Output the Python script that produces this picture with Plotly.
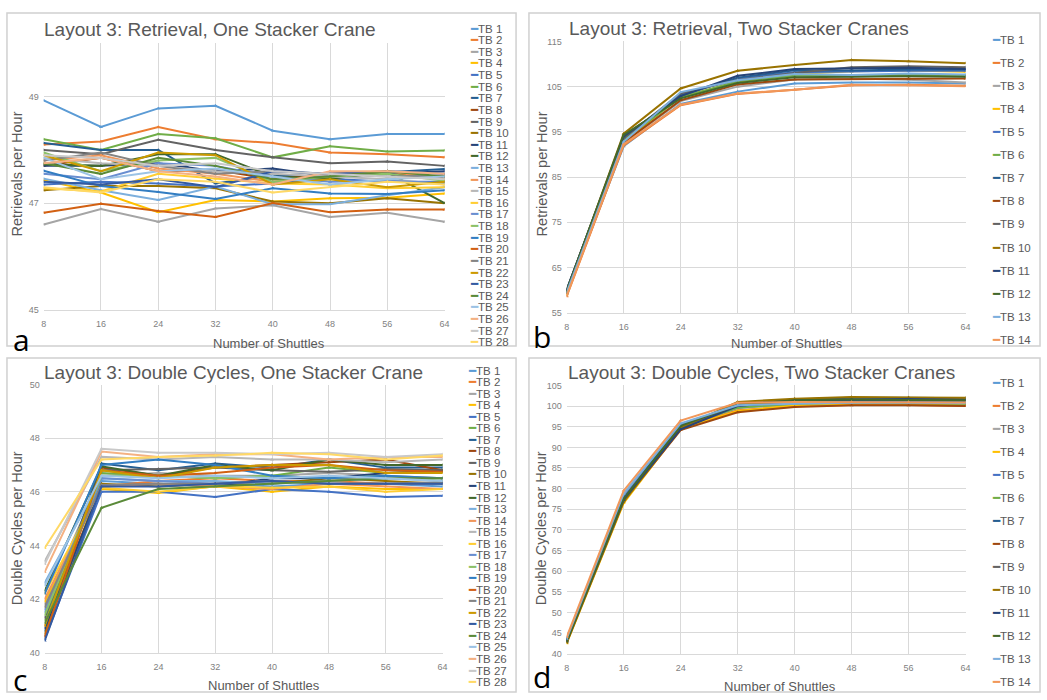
import plotly.graph_objects as go

W, H = 1047, 700

shuttles = [8, 16, 24, 32, 40, 48, 56, 64]
tb28 = [f"TB {i}" for i in range(1, 29)]
tb14 = [f"TB {i}" for i in range(1, 15)]

excel_colors = ["#5B9BD5", "#ED7D31", "#A5A5A5", "#FFC000", "#4472C4", "#70AD47",
                "#255E91", "#9E480E", "#636363", "#997300", "#264478", "#43682B",
                "#7CAFDD", "#F1975A", "#B7B7B7", "#FFCD33", "#698ED0", "#8CC168",
                "#327DC2", "#D26012", "#848484", "#CC9A00", "#335AA1", "#5A8A39",
                "#9CC3E5", "#F4B183", "#C9C9C9", "#FFD966"]

# Panel a: Retrieval, one stacker crane (retrievals per hour)
ret_one = [
    [48.93, 48.43, 48.78, 48.83, 48.36, 48.20, 48.30, 48.30],
    [48.10, 48.16, 48.43, 48.20, 48.13, 47.95, 47.92, 47.86],
    [46.60, 46.89, 46.65, 46.90, 46.96, 46.74, 46.82, 46.65],
    [47.43, 47.20, 46.83, 47.06, 47.03, 47.09, 47.10, 47.18],
    [47.35, 47.40, 47.37, 47.31, 47.37, 47.46, 47.40, 47.40],
    [48.20, 48.00, 48.30, 48.22, 47.86, 48.07, 47.97, 47.99],
    [48.13, 48.00, 48.00, 47.37, 47.52, 47.48, 47.58, 47.64],
    [47.70, 47.85, 47.60, 47.62, 47.45, 47.55, 47.55, 47.48],
    [48.00, 47.92, 48.19, 48.00, 47.86, 47.75, 47.78, 47.70],
    [47.24, 47.32, 47.32, 47.28, 47.03, 47.00, 47.09, 47.00],
    [47.70, 47.70, 47.75, 47.60, 47.65, 47.50, 47.55, 47.60],
    [47.73, 47.70, 47.92, 47.92, 47.50, 47.46, 47.58, 47.00],
    [47.46, 47.24, 47.06, 47.31, 46.98, 46.98, 47.15, 47.30],
    [47.80, 47.90, 47.65, 47.55, 47.40, 47.55, 47.60, 47.45],
    [47.85, 47.75, 47.70, 47.60, 47.55, 47.50, 47.45, 47.35],
    [47.28, 47.22, 47.55, 47.46, 47.37, 47.35, 47.28, 47.30],
    [47.55, 47.45, 47.75, 47.70, 47.50, 47.40, 47.42, 47.38],
    [47.95, 47.60, 47.80, 47.85, 47.40, 47.50, 47.55, 47.42],
    [47.61, 47.32, 47.21, 47.08, 47.28, 47.18, 47.17, 47.24],
    [46.82, 46.99, 46.85, 46.74, 47.00, 46.83, 46.88, 46.88],
    [47.80, 47.95, 47.70, 47.55, 47.60, 47.55, 47.50, 47.52],
    [47.90, 47.60, 47.95, 47.90, 47.35, 47.45, 47.30, 47.40],
    [47.40, 47.35, 47.45, 47.30, 47.60, 47.55, 47.60, 47.55],
    [47.75, 47.55, 47.85, 47.70, 47.45, 47.50, 47.60, 47.50],
    [47.85, 47.45, 47.60, 47.65, 47.50, 47.35, 47.45, 47.50],
    [47.75, 47.85, 47.60, 47.50, 47.35, 47.60, 47.60, 47.55],
    [47.90, 47.85, 47.70, 47.75, 47.60, 47.55, 47.50, 47.45],
    [47.30, 47.20, 47.45, 47.40, 47.20, 47.30, 47.40, 47.35],
]

# Panel b: Retrieval, two stacker cranes
ret_two = [
    [59.2, 91.8, 101.2, 103.9, 105.7, 105.9, 105.9, 105.7],
    [58.6, 92.0, 100.9, 103.4, 104.3, 105.3, 105.4, 105.2],
    [59.5, 92.5, 101.8, 105.0, 106.6, 106.8, 106.5, 105.9],
    [59.0, 92.8, 102.8, 106.0, 107.8, 108.4, 108.6, 108.3],
    [59.8, 93.5, 103.2, 106.8, 108.2, 108.4, 108.5, 108.5],
    [59.6, 93.2, 102.6, 106.2, 107.4, 107.6, 107.6, 107.5],
    [59.9, 93.8, 103.0, 107.0, 108.6, 108.6, 108.8, 108.8],
    [59.3, 92.6, 102.0, 105.5, 106.6, 106.7, 106.8, 106.8],
    [60.0, 93.6, 103.5, 106.5, 108.0, 109.3, 109.5, 109.3],
    [59.7, 94.6, 104.6, 108.5, 109.8, 110.9, 110.6, 110.2],
    [60.0, 94.0, 102.9, 107.4, 108.9, 109.0, 109.2, 108.9],
    [59.8, 94.3, 102.4, 105.8, 107.1, 107.2, 107.3, 107.2],
    [59.4, 92.8, 103.8, 106.4, 107.8, 107.6, 107.9, 107.7],
    [58.7, 92.2, 101.0, 103.5, 104.3, 105.4, 105.3, 105.1],
]

# Panel c: Double cycles, one stacker crane
dc_one = [
    [41.5, 46.4, 46.3, 46.3, 46.2, 46.3, 46.3, 46.2],
    [41.0, 46.2, 46.4, 46.5, 46.4, 46.4, 46.3, 46.3],
    [41.8, 46.6, 46.7, 46.6, 46.6, 46.7, 46.6, 46.5],
    [41.9, 46.1, 45.95, 46.2, 46.0, 46.2, 46.1, 46.1],
    [40.5, 46.0, 46.0, 45.8, 46.1, 46.0, 45.8, 45.85],
    [41.2, 46.7, 46.6, 46.5, 46.6, 46.9, 46.7, 46.8],
    [40.8, 47.05, 46.8, 47.05, 46.9, 47.2, 46.9, 46.9],
    [40.6, 46.9, 46.6, 46.9, 47.0, 47.1, 47.2, 46.8],
    [41.3, 46.8, 46.85, 46.9, 46.8, 46.75, 46.85, 46.8],
    [40.7, 46.3, 46.2, 46.3, 46.3, 46.5, 46.4, 46.3],
    [40.9, 46.2, 46.3, 46.2, 46.5, 46.5, 46.7, 46.75],
    [42.3, 46.95, 46.6, 47.0, 46.8, 47.2, 47.0, 47.0],
    [42.6, 46.5, 46.4, 46.4, 46.3, 46.4, 46.5, 46.4],
    [42.0, 46.2, 46.3, 46.2, 46.1, 46.3, 46.2, 46.1],
    [43.4, 47.3, 47.2, 47.3, 47.2, 47.2, 47.1, 47.2],
    [42.2, 46.15, 46.0, 46.2, 46.15, 46.2, 46.0, 46.1],
    [41.6, 46.5, 46.4, 46.3, 46.4, 46.3, 46.3, 46.3],
    [41.4, 46.6, 46.6, 46.5, 46.6, 46.5, 46.6, 46.4],
    [42.2, 47.0, 47.2, 47.0, 46.6, 46.5, 46.6, 46.5],
    [40.6, 46.8, 46.6, 46.7, 46.9, 47.0, 46.8, 46.75],
    [41.7, 46.25, 46.3, 46.3, 46.4, 46.3, 46.3, 46.35],
    [41.0, 46.8, 46.5, 46.9, 47.0, 47.0, 46.7, 46.7],
    [40.45, 46.2, 46.2, 46.3, 46.4, 46.3, 46.3, 46.3],
    [41.1, 45.4, 46.1, 46.2, 46.3, 46.4, 46.5, 46.5],
    [42.5, 46.6, 46.5, 46.6, 46.5, 46.6, 46.5, 46.4],
    [43.0, 47.5, 47.3, 47.4, 47.4, 47.2, 47.3, 47.3],
    [43.3, 47.6, 47.45, 47.45, 47.4, 47.45, 47.3, 47.4],
    [43.9, 47.2, 47.3, 47.35, 47.45, 47.4, 47.2, 47.35],
]

# Panel d: Double cycles, two stacker cranes
dc_two = [
    [43.5, 78.5, 95.5, 100.0, 100.3, 100.6, 100.6, 100.5],
    [43.0, 77.5, 95.0, 99.0, 100.0, 100.3, 100.3, 100.1],
    [43.2, 78.0, 95.2, 99.5, 100.5, 100.8, 100.8, 100.7],
    [42.5, 76.5, 94.5, 98.8, 100.2, 100.6, 100.6, 100.5],
    [43.3, 77.8, 95.3, 99.8, 100.8, 101.0, 101.0, 100.9],
    [43.0, 77.2, 95.0, 99.6, 100.6, 100.8, 100.7, 100.6],
    [43.4, 77.6, 95.4, 100.2, 101.2, 101.4, 101.4, 101.3],
    [42.8, 77.0, 94.2, 98.5, 99.8, 100.2, 100.2, 100.0],
    [43.2, 77.4, 94.6, 100.5, 101.6, 102.0, 102.0, 101.9],
    [42.6, 76.8, 94.8, 101.0, 101.8, 102.2, 102.1, 102.0],
    [43.0, 77.3, 94.4, 100.0, 101.3, 101.6, 101.7, 101.5],
    [42.9, 77.5, 95.2, 100.3, 101.4, 101.6, 101.5, 101.4],
    [43.6, 78.8, 95.8, 100.2, 100.6, 100.8, 100.8, 100.7],
    [44.0, 79.5, 96.5, 100.8, 101.0, 101.0, 101.0, 100.9],
]

titles = ["Layout 3: Retrieval, One Stacker Crane",
          "Layout 3: Retrieval, Two Stacker Cranes",
          "Layout 3: Double Cycles, One Stacker Crane",
          "Layout 3: Double Cycles, Two Stacker Cranes"]
ytitles = ["Retrievals per Hour", "Retrievals per Hour",
           "Double Cycles per Hour", "Double Cycles per Hour"]
xtitle = "Number of Shuttles"
letters = ["a", "b", "c", "d"]

y_ticks = [[45, 47, 49], list(range(55, 116, 10)),
           list(range(40, 51, 2)), list(range(40, 106, 5))]
y_ranges = [[45, 50], [55, 115], [40, 50], [40, 105]]

def px_x(p):
    return p / W

def px_y(p):
    return 1 - p / H

# plot-area geometry (pixels)
plot_px = [
    (41, 445, 39, 309),
    (568, 970, 37, 312),
    (42, 443, 385, 657),
    (568, 970, 386, 658),
]
panel_px = [(4, 517, 8, 346), (530, 1045, 8, 346), (4, 517, 358, 697), (530, 1045, 358, 697)]
title_px = [(39, 25), (568, 24), (39, 373), (567, 373)]
xtitle_px = [(268, 343), (790, 343), (263, 690), (783, 691)]
ytitle_px = [(14, 171), (543, 171), (15, 531), (543, 531)]
letter_px = [(8, 339), (532, 336), (8, 684), (532, 681)]
legend_px = [(469, 24, 11.78), (995, 35, 23.46), (467, 371, 11.7), (995, 383, 23.4)]

datasets = [(ret_one, tb28), (ret_two, tb14), (dc_one, tb28), (dc_two, tb14)]

GRAY_TXT = "#595959"
TICK_TXT = "#7F7F7F"
GRID = "#D9D9D9"
FONT = "Liberation Sans, Arial, sans-serif"

fig = go.Figure()
layout = dict(
    width=W, height=H,
    margin=dict(l=0, r=0, t=0, b=0),
    paper_bgcolor="white", plot_bgcolor="white",
    showlegend=False,
    font=dict(family=FONT, color=GRAY_TXT),
)
annotations = []
shapes = []

for k in range(4):
    series, names = datasets[k]
    sfx = "" if k == 0 else str(k + 1)
    xa, ya = "x" + sfx, "y" + sfx
    for i, (vals, name) in enumerate(zip(series, names)):
        c = excel_colors[i % len(excel_colors)]
        fig.add_trace(go.Scatter(
            x=shuttles, y=vals, name=name, mode="lines+markers",
            line=dict(color=c, width=2),
            marker=dict(color=c, size=3.5, symbol="triangle-up"),
            xaxis=xa, yaxis=ya, showlegend=False))
    l, r, t, b = plot_px[k]
    layout["xaxis" + sfx] = dict(
        domain=[px_x(l), px_x(r)], range=[8, 64], tickvals=shuttles,
        showgrid=True, gridcolor=GRID, gridwidth=1, zeroline=False,
        showline=True, linecolor=GRID, linewidth=1,
        tickfont=dict(size=9, color=TICK_TXT), ticklabelstandoff=6,
        anchor=ya, fixedrange=True)
    layout["yaxis" + sfx] = dict(
        domain=[px_y(b), px_y(t)], range=y_ranges[k], tickvals=y_ticks[k],
        showgrid=True, gridcolor=GRID, gridwidth=1, zeroline=False,
        showline=False,
        tickfont=dict(size=9, color=TICK_TXT), ticklabelstandoff=4,
        anchor=xa, fixedrange=True)

    pl, pr, pt, pb = panel_px[k]
    shapes.append(dict(type="rect", xref="paper", yref="paper",
                       x0=px_x(pl), x1=px_x(pr), y0=px_y(pb), y1=px_y(pt),
                       line=dict(color="#D0D0D0", width=1.5), layer="below"))
    tx, ty = title_px[k]
    annotations.append(dict(text=titles[k], x=px_x(tx), y=px_y(ty), xref="paper", yref="paper",
                            xanchor="left", yanchor="middle", showarrow=False,
                            font=dict(size=19, color=GRAY_TXT, family=FONT)))
    xx, xy = xtitle_px[k]
    annotations.append(dict(text=xtitle, x=px_x(xx), y=px_y(xy), xref="paper", yref="paper",
                            xanchor="center", yanchor="middle", showarrow=False,
                            font=dict(size=13, color=GRAY_TXT, family=FONT)))
    yx, yy = ytitle_px[k]
    annotations.append(dict(text=ytitles[k], x=px_x(yx), y=px_y(yy), xref="paper", yref="paper",
                            xanchor="center", yanchor="middle", showarrow=False, textangle=-90,
                            font=dict(size=14.5, color=GRAY_TXT, family=FONT)))
    lx, ly = letter_px[k]
    annotations.append(dict(text=letters[k], x=px_x(lx), y=px_y(ly), xref="paper", yref="paper",
                            xanchor="left", yanchor="middle", showarrow=False,
                            font=dict(size=30, color="black", family="Open Sans, sans-serif")))
    gx, gy, gstep = legend_px[k]
    for i, name in enumerate(names):
        c = excel_colors[i % len(excel_colors)]
        annotations.append(dict(
            text=f"<span style='color:{c}'>━</span>{name}",
            x=px_x(gx), y=px_y(gy + i * gstep), xref="paper", yref="paper",
            xanchor="left", yanchor="middle", showarrow=False,
            font=dict(size=11.5, color=GRAY_TXT, family=FONT)))

layout["annotations"] = annotations
layout["shapes"] = shapes
fig.update_layout(**layout)
fig.write_html("out.html")
